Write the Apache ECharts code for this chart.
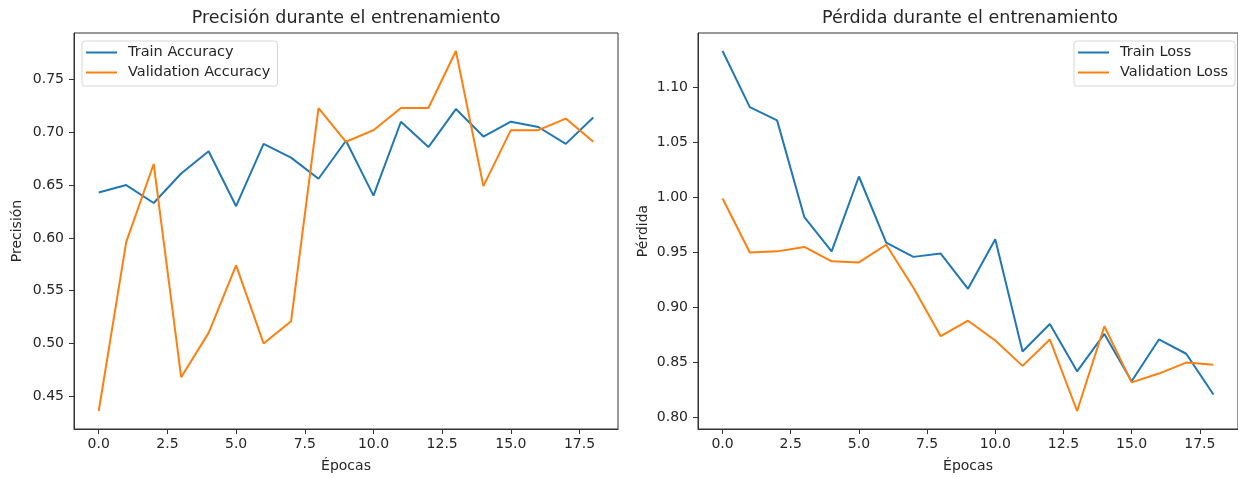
<!DOCTYPE html>
<html>
<head>
<meta charset="utf-8">
<script src="https://cdn.jsdelivr.net/npm/echarts@6/dist/echarts.min.js"></script>
<style>
  html, body { margin: 0; padding: 0; background: #fff; }
  #main { width: 1238px; height: 478px; }
</style>
</head>
<body>
<div id="main"></div>
<script>
// datos
var epochs = [0, 1, 2, 3, 4, 5, 6, 7, 8, 9, 10, 11, 12, 13, 14, 15, 16, 17, 18];
var trainAcc = [0.643, 0.650, 0.633, 0.661, 0.682, 0.630, 0.689, 0.676, 0.656, 0.692,
                0.640, 0.710, 0.686, 0.722, 0.696, 0.710, 0.705, 0.689, 0.714];
var valAcc = [0.436, 0.596, 0.670, 0.468, 0.510, 0.574, 0.500, 0.521, 0.723, 0.691,
              0.702, 0.723, 0.723, 0.777, 0.649, 0.702, 0.702, 0.713, 0.691];
var trainLoss = [1.133, 1.082, 1.070, 0.982, 0.951, 1.019, 0.959, 0.946, 0.949, 0.917,
                 0.962, 0.860, 0.885, 0.842, 0.876, 0.833, 0.871, 0.858, 0.821];
var valLoss = [0.999, 0.950, 0.951, 0.955, 0.942, 0.941, 0.957, 0.918, 0.874, 0.888,
               0.870, 0.847, 0.871, 0.806, 0.883, 0.832, 0.840, 0.850, 0.848];
var xTicks = [0, 2.5, 5, 7.5, 10, 12.5, 15, 17.5];
var accTicks = [0.45, 0.50, 0.55, 0.60, 0.65, 0.70, 0.75];
var lossTicks = [0.80, 0.85, 0.90, 0.95, 1.00, 1.05, 1.10];

var FONT = 'DejaVu Sans';
var TXT = '#262626';
var BLUE = '#1f77b4', ORANGE = '#ff7f0e';

function pairs(ys) {
  return epochs.map(function (e, i) { return [e, ys[i]]; });
}
// margen del 5% como matplotlib
function pad(a, b) {
  var lo = Math.min.apply(null, a.concat(b)), hi = Math.max.apply(null, a.concat(b));
  var m = (hi - lo) * 0.05;
  return [lo - m, hi + m];
}
var accRange = pad(trainAcc, valAcc);
var lossRange = pad(trainLoss, valLoss);

function xAxis(idx) {
  return {
    type: 'value', gridIndex: idx, min: -0.9, max: 18.9,
    splitLine: { show: false },
    axisLine: { show: true, onZero: false, lineStyle: { color: '#333' } },
    axisTick: { show: true, length: 5, lineStyle: { color: '#333' }, customValues: xTicks },
    axisLabel: { fontFamily: FONT, fontSize: 14, color: TXT, margin: 8,
      customValues: xTicks, formatter: function (v) { return v.toFixed(1); } },
    name: 'Épocas', nameLocation: 'middle', nameGap: 30,
    nameTextStyle: { fontFamily: FONT, fontSize: 14, color: TXT }
  };
}
function yAxis(idx, range, ticks, name, gap) {
  return {
    type: 'value', gridIndex: idx, min: range[0], max: range[1],
    splitLine: { show: false },
    axisLine: { show: true, onZero: false, lineStyle: { color: '#333' } },
    axisTick: { show: true, length: 5, lineStyle: { color: '#333' }, customValues: ticks },
    axisLabel: { fontFamily: FONT, fontSize: 14, color: TXT, margin: 10,
      customValues: ticks, formatter: function (v) { return v.toFixed(2); } },
    name: name, nameLocation: 'middle', nameGap: gap,
    nameTextStyle: { fontFamily: FONT, fontSize: 14, color: TXT }
  };
}
function line(name, ys, color, idx) {
  return {
    name: name, type: 'line', xAxisIndex: idx, yAxisIndex: idx,
    data: pairs(ys), symbol: 'none', animation: false,
    lineStyle: { color: color, width: 2 }, itemStyle: { color: color }
  };
}
function legend(names, left) {
  return {
    data: names, orient: 'vertical', left: left, top: 41,
    icon: 'rect', itemWidth: 31, itemHeight: 2, itemGap: 3,
    padding: [3, 7, 5, 4],
    borderColor: '#d6d6d6', borderWidth: 1, borderRadius: 3,
    backgroundColor: 'rgba(255,255,255,0.8)',
    textStyle: { fontFamily: FONT, fontSize: 14.5, color: TXT, lineHeight: 17, padding: [0, 0, 0, 6] }
  };
}

var chart = echarts.init(document.getElementById('main'));
chart.setOption({
  animation: false,
  title: [
    { text: 'Precisión durante el entrenamiento', left: 346, top: 9, padding: 0, textAlign: 'center',
      textStyle: { fontFamily: FONT, fontSize: 17.5, fontWeight: 'normal', color: TXT } },
    { text: 'Pérdida durante el entrenamiento', left: 970, top: 9, padding: 0, textAlign: 'center',
      textStyle: { fontFamily: FONT, fontSize: 17.5, fontWeight: 'normal', color: TXT } }
  ],
  legend: [
    legend(['Train Accuracy', 'Validation Accuracy'], 82),
    legend(['Train Loss', 'Validation Loss'], 1074)
  ],
  grid: [
    { left: 74, top: 33, width: 544, height: 400, show: true, borderColor: '#333', borderWidth: 1 },
    { left: 698, top: 33, width: 544, height: 400, show: true, borderColor: '#333', borderWidth: 1 }
  ],
  xAxis: [xAxis(0), xAxis(1)],
  yAxis: [
    yAxis(0, accRange, accTicks, 'Precisión', 50),
    yAxis(1, lossRange, lossTicks, 'Pérdida', 48)
  ],
  series: [
    line('Train Accuracy', trainAcc, BLUE, 0),
    line('Validation Accuracy', valAcc, ORANGE, 0),
    line('Train Loss', trainLoss, BLUE, 1),
    line('Validation Loss', valLoss, ORANGE, 1)
  ]
});
</script>
</body>
</html>
